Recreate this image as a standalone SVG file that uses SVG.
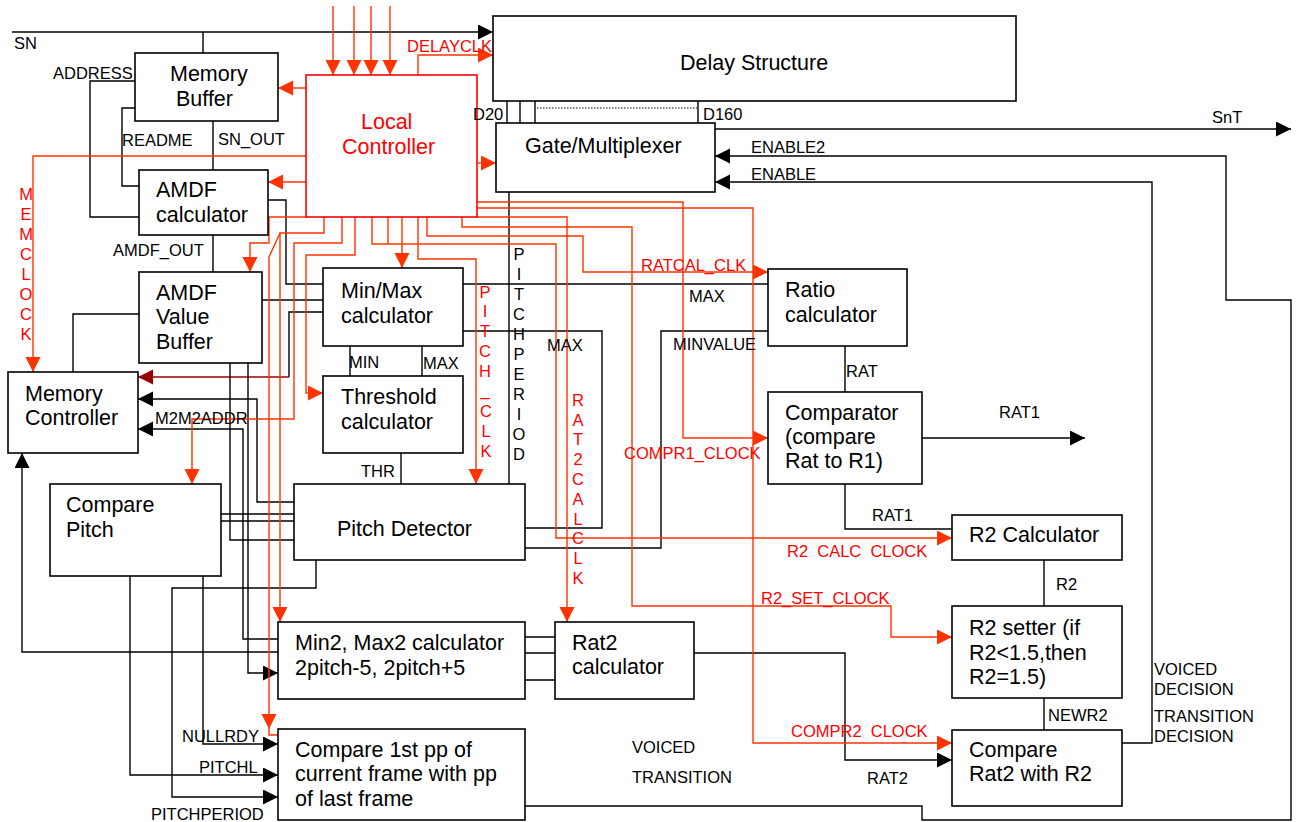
<svg xmlns="http://www.w3.org/2000/svg" width="1296" height="822" viewBox="0 0 1296 822">
<style>
.box{fill:#fff;stroke:#000;stroke-width:1.6}
.t{font-family:"Liberation Sans",Arial,sans-serif;font-size:21.5px;fill:#000}
.l{font-family:"Liberation Sans",Arial,sans-serif;font-size:16.5px;fill:#000}
.r{fill:#ff0000}
.v{text-anchor:middle}
.w{fill:none;stroke:#000;stroke-width:1.4}
.rw{fill:none;stroke:#ff3300;stroke-width:1.4}
.dr{fill:none;stroke:#990000;stroke-width:1.4}
</style>
<defs>
<marker id="ab" markerUnits="userSpaceOnUse" markerWidth="16" markerHeight="16" refX="15" refY="7.5" orient="auto"><path d="M0,0 L15,7.5 L0,15 z" fill="#000"/></marker>
<marker id="ar" markerUnits="userSpaceOnUse" markerWidth="16" markerHeight="16" refX="15" refY="7.5" orient="auto"><path d="M0,0 L15,7.5 L0,15 z" fill="#ff3300"/></marker>
<marker id="ad" markerUnits="userSpaceOnUse" markerWidth="16" markerHeight="16" refX="15" refY="7.5" orient="auto"><path d="M0,0 L15,7.5 L0,15 z" fill="#990000"/></marker>
</defs>
<rect width="1296" height="822" fill="#fff"/>

<g id="connectors">
<path class="w" d="M12,32 H493" marker-end="url(#ab)"/>
<path class="w" d="M203,32 V53"/>
<path class="w" d="M135,81 H90 V217 H139"/>
<path class="w" d="M135,108 H122 V186 H139"/>
<path class="w" d="M213,121 V170"/>
<path class="w" d="M213,235 V272"/>
<path class="w" d="M268,200 H286 V284 H323"/>
<path class="w" d="M262,300 H323"/>
<path class="w" d="M323,312 H289 V377"/>
<path class="dr" d="M289,377 H138" marker-end="url(#ad)"/>
<path class="w" d="M139,314 H73 V372"/>
<path class="w" d="M294,502 H257 V399 H138" marker-end="url(#ab)"/>
<path class="w" d="M278,639 H243 V429 H138" marker-end="url(#ab)"/>
<path class="w" d="M230,363 V540 H294"/>
<path class="w" d="M248,363 V673 H278" marker-end="url(#ab)"/>
<path class="w" d="M221,514 H294 M221,521 H294"/>
<path class="w" d="M278,652 H22 V453" marker-end="url(#ab)"/>
<path class="w" d="M203,576 V744 H278" marker-end="url(#ab)"/>
<path class="w" d="M130,576 V775 H278" marker-end="url(#ab)"/>
<path class="w" d="M316,560 V588 H172 V797 H278" marker-end="url(#ab)"/>
<path class="w" d="M350,346 V376 M422,346 V376"/>
<path class="w" d="M401,453 V484"/>
<path class="w" d="M509,192 V484"/>
<path class="w" d="M507,101 V123 M520,101 V123 M535,101 V123 M698,101 V123"/>
<path d="M537,108 H697" fill="none" stroke="#000" stroke-width="1" stroke-dasharray="1.5,1.5"/>
<path class="w" d="M715,129 H1291" marker-end="url(#ab)"/>
<path class="w" d="M525,806 H922 V820 H1291 V300 H1226 V156 H715" marker-end="url(#ab)"/>
<path class="w" d="M1122,743 H1152 V182 H715" marker-end="url(#ab)"/>
<path class="w" d="M463,284 H768"/>
<path class="w" d="M463,331 H602 V528 H525"/>
<path class="w" d="M525,548 H661 V331 H768"/>
<path class="w" d="M845,346 V392"/>
<path class="w" d="M922,438 H1085" marker-end="url(#ab)"/>
<path class="w" d="M845,484 V529 H952"/>
<path class="w" d="M1044,560 V606"/>
<path class="w" d="M1044,698 V730"/>
<path class="w" d="M694,653 H845 V760 H952" marker-end="url(#ab)"/>
<path class="w" d="M525,637 H555 M525,653 H555 M525,680 H555"/>
<path class="rw" d="M333,6 V75" marker-end="url(#ar)"/>
<path class="rw" d="M354,6 V75" marker-end="url(#ar)"/>
<path class="rw" d="M371,6 V75" marker-end="url(#ar)"/>
<path class="rw" d="M390,6 V75" marker-end="url(#ar)"/>
<path class="rw" d="M418,75 V55 H493" marker-end="url(#ar)"/>
<path class="rw" d="M306,88 H278" marker-end="url(#ar)"/>
<path class="rw" d="M306,182 H268" marker-end="url(#ar)"/>
<path class="rw" d="M306,156 H33 V372" marker-end="url(#ar)"/>
<path class="rw" d="M477,163 H496" marker-end="url(#ar)"/>
<path class="rw" d="M306,217 H269 V243 H250 V272" marker-end="url(#ar)"/>
<path class="rw" d="M324,217 V233 H280 V622" marker-end="url(#ar)"/>
<path class="rw" d="M280,233 L269,257 V729" marker-end="url(#ar)"/>
<path class="rw" d="M269,729 V735 H278"/>
<path class="rw" d="M342,217 V243 H294 V419 H192 V484" marker-end="url(#ar)"/>
<path class="rw" d="M355,217 V255 H306 V393 H323" marker-end="url(#ar)"/>
<path class="rw" d="M372,217 V244 H556 V538 H952" marker-end="url(#ar)"/>
<path class="rw" d="M388,217 V244"/>
<path class="rw" d="M402,217 V268" marker-end="url(#ar)"/>
<path class="rw" d="M418,217 V259 H476 V484" marker-end="url(#ar)"/>
<path class="rw" d="M427,217 V236 H583 V272 H768" marker-end="url(#ar)"/>
<path class="rw" d="M462,217 V227 H632 V606 H891 V637 H952" marker-end="url(#ar)"/>
<path class="rw" d="M477,217 H567 V622" marker-end="url(#ar)"/>
<path class="rw" d="M477,202 H683 V438 H768" marker-end="url(#ar)"/>
<path class="rw" d="M477,208 H753 V743 H952" marker-end="url(#ar)"/>
</g>

<g id="delay"><rect class="box" x="493" y="16" width="523" height="85"/><text class="t" x="680" y="70">Delay Structure</text></g>
<g id="membuf"><rect class="box" x="135" y="53" width="143" height="68"/><text class="t" x="170" y="81">Memory</text><text class="t" x="176" y="106">Buffer</text></g>
<g id="localctrl"><rect x="306" y="75" width="171" height="142" fill="#fff" stroke="#ff0000" stroke-width="1.6"/><text class="t r" x="361" y="129">Local</text><text class="t r" x="342" y="154">Controller</text></g>
<g id="gatemux"><rect class="box" x="496" y="123" width="219" height="69"/><text class="t" x="525" y="153">Gate/Multiplexer</text></g>
<g id="amdfcalc"><rect class="box" x="139" y="170" width="129" height="65"/><text class="t" x="156" y="197">AMDF</text><text class="t" x="156" y="222">calculator</text></g>
<g id="amdfvb"><rect class="box" x="139" y="272" width="123" height="91"/><text class="t" x="156" y="300">AMDF</text><text class="t" x="156" y="324">Value</text><text class="t" x="156" y="349">Buffer</text></g>
<g id="memctrl"><rect class="box" x="8" y="372" width="130" height="81"/><text class="t" x="25" y="401">Memory</text><text class="t" x="25" y="425">Controller</text></g>
<g id="minmax"><rect class="box" x="323" y="268" width="140" height="78"/><text class="t" x="341" y="298">Min/Max</text><text class="t" x="341" y="323">calculator</text></g>
<g id="thresh"><rect class="box" x="323" y="376" width="140" height="77"/><text class="t" x="341" y="404">Threshold</text><text class="t" x="341" y="429">calculator</text></g>
<g id="cmppitch"><rect class="box" x="50" y="484" width="171" height="92"/><text class="t" x="66" y="512">Compare</text><text class="t" x="66" y="537">Pitch</text></g>
<g id="pitchdet"><rect class="box" x="294" y="484" width="231" height="76"/><text class="t" x="337" y="536">Pitch Detector</text></g>
<g id="min2max2"><rect class="box" x="278" y="622" width="247" height="77"/><text class="t" x="295" y="650">Min2, Max2 calculator</text><text class="t" x="295" y="675">2pitch-5, 2pitch+5</text></g>
<g id="rat2calc"><rect class="box" x="555" y="622" width="139" height="77"/><text class="t" x="572" y="650">Rat2</text><text class="t" x="572" y="674">calculator</text></g>
<g id="cmp1st"><rect class="box" x="278" y="729" width="247" height="91"/><text class="t" x="295" y="757">Compare 1st pp of</text><text class="t" x="295" y="781">current frame with pp</text><text class="t" x="295" y="806">of last frame</text></g>
<g id="ratio"><rect class="box" x="768" y="269" width="139" height="77"/><text class="t" x="785" y="297">Ratio</text><text class="t" x="785" y="322">calculator</text></g>
<g id="comparator"><rect class="box" x="768" y="392" width="154" height="92"/><text class="t" x="785" y="420">Comparator</text><text class="t" x="785" y="444">(compare</text><text class="t" x="785" y="468">Rat to R1)</text></g>
<g id="r2calc"><rect class="box" x="952" y="515" width="170" height="45"/><text class="t" x="969" y="542">R2 Calculator</text></g>
<g id="r2setter"><rect class="box" x="952" y="606" width="170" height="92"/><text class="t" x="969" y="635">R2 setter (if</text><text class="t" x="969" y="660">R2&lt;1.5,then</text><text class="t" x="969" y="684">R2=1.5)</text></g>
<g id="cmprat2"><rect class="box" x="952" y="730" width="170" height="76"/><text class="t" x="969" y="757">Compare</text><text class="t" x="969" y="781">Rat2 with R2</text></g>

<g id="labels">
<text class="l" x="14" y="49">SN</text>
<text class="l r" x="407" y="52">DELAYCLK</text>
<text class="l" x="53" y="79">ADDRESS</text>
<text class="l" x="122" y="146">README</text>
<text class="l" x="218" y="145">SN_OUT</text>
<text class="l" x="473" y="120">D20</text>
<text class="l" x="703" y="120">D160</text>
<text class="l" x="1212" y="123">SnT</text>
<text class="l" x="751" y="153">ENABLE2</text>
<text class="l" x="751" y="180">ENABLE</text>
<text class="l" x="113" y="256">AMDF_OUT</text>
<text class="l r" x="641" y="271">RATCAL_CLK</text>
<text class="l" x="689" y="302">MAX</text>
<text class="l" x="349" y="368">MIN</text>
<text class="l" x="423" y="369">MAX</text>
<text class="l" x="547" y="351">MAX</text>
<text class="l" x="673" y="350">MINVALUE</text>
<text class="l" x="846" y="377">RAT</text>
<text class="l" x="999" y="418">RAT1</text>
<text class="l" x="155" y="424">M2M2ADDR</text>
<text class="l r" x="624" y="459">COMPR1_CLOCK</text>
<text class="l" x="361" y="477">THR</text>
<text class="l" x="872" y="521">RAT1</text>
<text class="l r" x="787" y="557" xml:space="preserve">R2  CALC  CLOCK</text>
<text class="l" x="1056" y="590">R2</text>
<text class="l r" x="761" y="604">R2_SET_CLOCK</text>
<text class="l" x="1154" y="675">VOICED</text>
<text class="l" x="1154" y="695">DECISION</text>
<text class="l" x="1154" y="722">TRANSITION</text>
<text class="l" x="1154" y="742">DECISION</text>
<text class="l" x="1048" y="721">NEWR2</text>
<text class="l r" x="791" y="737" xml:space="preserve">COMPR2  CLOCK</text>
<text class="l" x="632" y="753">VOICED</text>
<text class="l" x="632" y="783">TRANSITION</text>
<text class="l" x="867" y="784">RAT2</text>
<text class="l" x="182" y="742">NULLRDY</text>
<text class="l" x="199" y="773">PITCHL</text>
<text class="l" x="151" y="820">PITCHPERIOD</text>
<g class="l r v">
<text x="26" y="200">M</text><text x="26" y="220">E</text><text x="26" y="240">M</text><text x="26" y="260">C</text><text x="26" y="280">L</text><text x="26" y="300">O</text><text x="26" y="320">C</text><text x="26" y="340">K</text>
</g>
<g class="l r v">
<text x="485" y="298">P</text><text x="485" y="317">I</text><text x="485" y="337">T</text><text x="485" y="357">C</text><text x="485" y="377">H</text><text x="485" y="396">_</text><text x="486" y="417">C</text><text x="486" y="437">L</text><text x="486" y="457">K</text>
</g>
<g class="l v">
<text x="519" y="260">P</text><text x="519" y="280">I</text><text x="519" y="300">T</text><text x="519" y="320">C</text><text x="519" y="340">H</text><text x="519" y="360">P</text><text x="519" y="380">E</text><text x="519" y="400">R</text><text x="519" y="420">I</text><text x="519" y="440">O</text><text x="519" y="460">D</text>
</g>
<g class="l r v">
<text x="578" y="406">R</text><text x="578" y="426">A</text><text x="578" y="445">T</text><text x="578" y="465">2</text><text x="578" y="485">C</text><text x="578" y="505">A</text><text x="578" y="525">L</text><text x="578" y="544">C</text><text x="578" y="564">L</text><text x="578" y="584">K</text>
</g>
</g>
</svg>
